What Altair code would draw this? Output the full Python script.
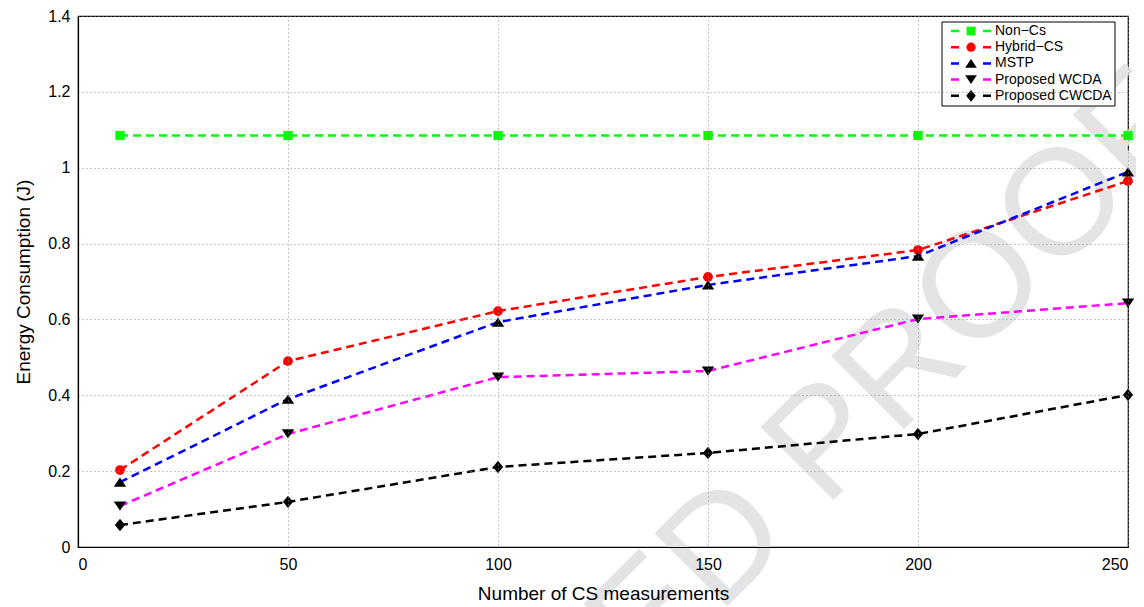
import altair as alt
import pandas as pd

# ---- data ----
x_vals = [10, 50, 100, 150, 200, 250]
non_cs = [1.085, 1.085, 1.085, 1.085, 1.085, 1.085]
hybrid_cs = [0.203, 0.490, 0.622, 0.712, 0.783, 0.965]
mstp = [0.171, 0.390, 0.593, 0.691, 0.767, 0.989]
wcda = [0.108, 0.298, 0.448, 0.464, 0.601, 0.643]
cwcda = [0.058, 0.119, 0.211, 0.248, 0.298, 0.401]

series = ["Non-Cs", "Hybrid-CS", "MSTP", "Proposed WCDA", "Proposed CWCDA"]
values = [non_cs, hybrid_cs, mstp, wcda, cwcda]
legend_labels = ["Non\u2212Cs", "Hybrid\u2212CS", "MSTP", "Proposed WCDA", "Proposed CWCDA"]

x_ticks = [0, 50, 100, 150, 200, 250]
y_ticks = [0, 0.2, 0.4, 0.6, 0.8, 1.0, 1.2, 1.4]

# ---- styles ----
line_colors = ["#00ff00", "#ff0000", "#0000ff", "#ff00ff", "#000000"]
marker_colors = ["#00ff00", "#ff0000", "#000000", "#000000", "#000000"]
sq = "M-0.95,-0.95L0.95,-0.95L0.95,0.95L-0.95,0.95Z"
tri_up = "M0,-0.95L1.27,0.95L-1.27,0.95Z"
tri_down = "M0,0.95L1.27,-0.95L-1.27,-0.95Z"
diamond = "M0,-1.27L1.05,0L0,1.27L-1.05,0Z"
shapes = [sq, "circle", tri_up, tri_down, diamond]
FONT = "Liberation Sans"

rows = []
for s, vals in zip(series, values):
    for xv, yv in zip(x_vals, vals):
        rows.append({"series": s, "x": xv, "y": yv})
df = pd.DataFrame(rows)

leg = pd.DataFrame({"series": series, "label": legend_labels, "idx": list(range(len(series)))})

W, H = 1050, 531

xscale = alt.Scale(domain=[0, 250], nice=False, zero=False)
yscale = alt.Scale(domain=[0, 1.4], nice=False)

common = dict(labelFont=FONT, titleFont=FONT, labelFontSize=16, titleFontSize=19,
              labelColor="black", titleColor="black", titleFontWeight="normal",
              domainColor="black", domainWidth=1.2,
              gridColor="#8c8c8c", gridDash=[1, 3], gridWidth=1, zindex=1, ticks=False)

xaxis = alt.Axis(values=x_ticks, title="Number of CS measurements", grid=True,
                 labelPadding=9, titlePadding=12, **common)
yaxis = alt.Axis(values=y_ticks, format="~g", title="Energy Consumption (J)", grid=True,
                 labelPadding=8, titlePadding=14, **common)

color_sc = alt.Scale(domain=series, range=line_colors)
fill_sc = alt.Scale(domain=series, range=marker_colors)
shape_sc = alt.Scale(domain=series, range=shapes)

one = pd.DataFrame({"a": [0]})

watermark = alt.Chart(one).mark_text(
    text="ACCEPTED PROOF", angle=315, fontSize=150, font=FONT, color="#e3e4e6",
    align="center", baseline="middle"
).encode(x=alt.value(600), y=alt.value(576))

lines = alt.Chart(df).mark_line(strokeDash=[8, 5], strokeWidth=2.5).encode(
    x=alt.X("x:Q", scale=xscale, axis=xaxis),
    y=alt.Y("y:Q", scale=yscale, axis=yaxis),
    color=alt.Color("series:N", scale=color_sc, legend=None),
    detail="series:N",
)

points = alt.Chart(df).mark_point(filled=True, size=95, opacity=1, strokeWidth=0).encode(
    x=alt.X("x:Q", scale=xscale),
    y=alt.Y("y:Q", scale=yscale),
    fill=alt.Fill("series:N", scale=fill_sc, legend=None),
    shape=alt.Shape("series:N", scale=shape_sc, legend=None),
)

# ---- manual legend (MATLAB style) ----
leg_box = alt.Chart(one).mark_rect(fill="white", stroke="black", strokeWidth=1).encode(
    x=alt.value(864), x2=alt.value(1037), y=alt.value(6), y2=alt.value(90)
)

leg_base = alt.Chart(leg).transform_calculate(ly="15 + datum.idx * 16.2")

leg_lines = leg_base.mark_rule(strokeDash=[8, 24], strokeWidth=2.5).encode(
    x=alt.value(873), x2=alt.value(913),
    y=alt.Y("ly:Q", scale=None, axis=None),
    color=alt.Color("series:N", scale=color_sc, legend=None),
)
leg_pts = leg_base.mark_point(filled=True, size=85, opacity=1, strokeWidth=0).encode(
    x=alt.value(893),
    y=alt.Y("ly:Q", scale=None, axis=None),
    fill=alt.Fill("series:N", scale=fill_sc, legend=None),
    shape=alt.Shape("series:N", scale=shape_sc, legend=None),
)
leg_text = leg_base.mark_text(align="left", baseline="middle", fontSize=14, font=FONT,
                              color="black").encode(
    x=alt.value(917),
    y=alt.Y("ly:Q", scale=None, axis=None),
    text="label:N",
)

chart = alt.layer(watermark, lines, points, leg_box, leg_lines, leg_pts, leg_text).properties(
    width=W, height=H,
    background="white",
    autosize=alt.AutoSizeParams(type="none"),
    padding={"left": 70, "top": 8, "right": 8, "bottom": 60},
).configure_view(
    stroke="black", strokeWidth=1.2
)

chart.save("out.html", embed_options={"renderer": "svg", "actions": False})
